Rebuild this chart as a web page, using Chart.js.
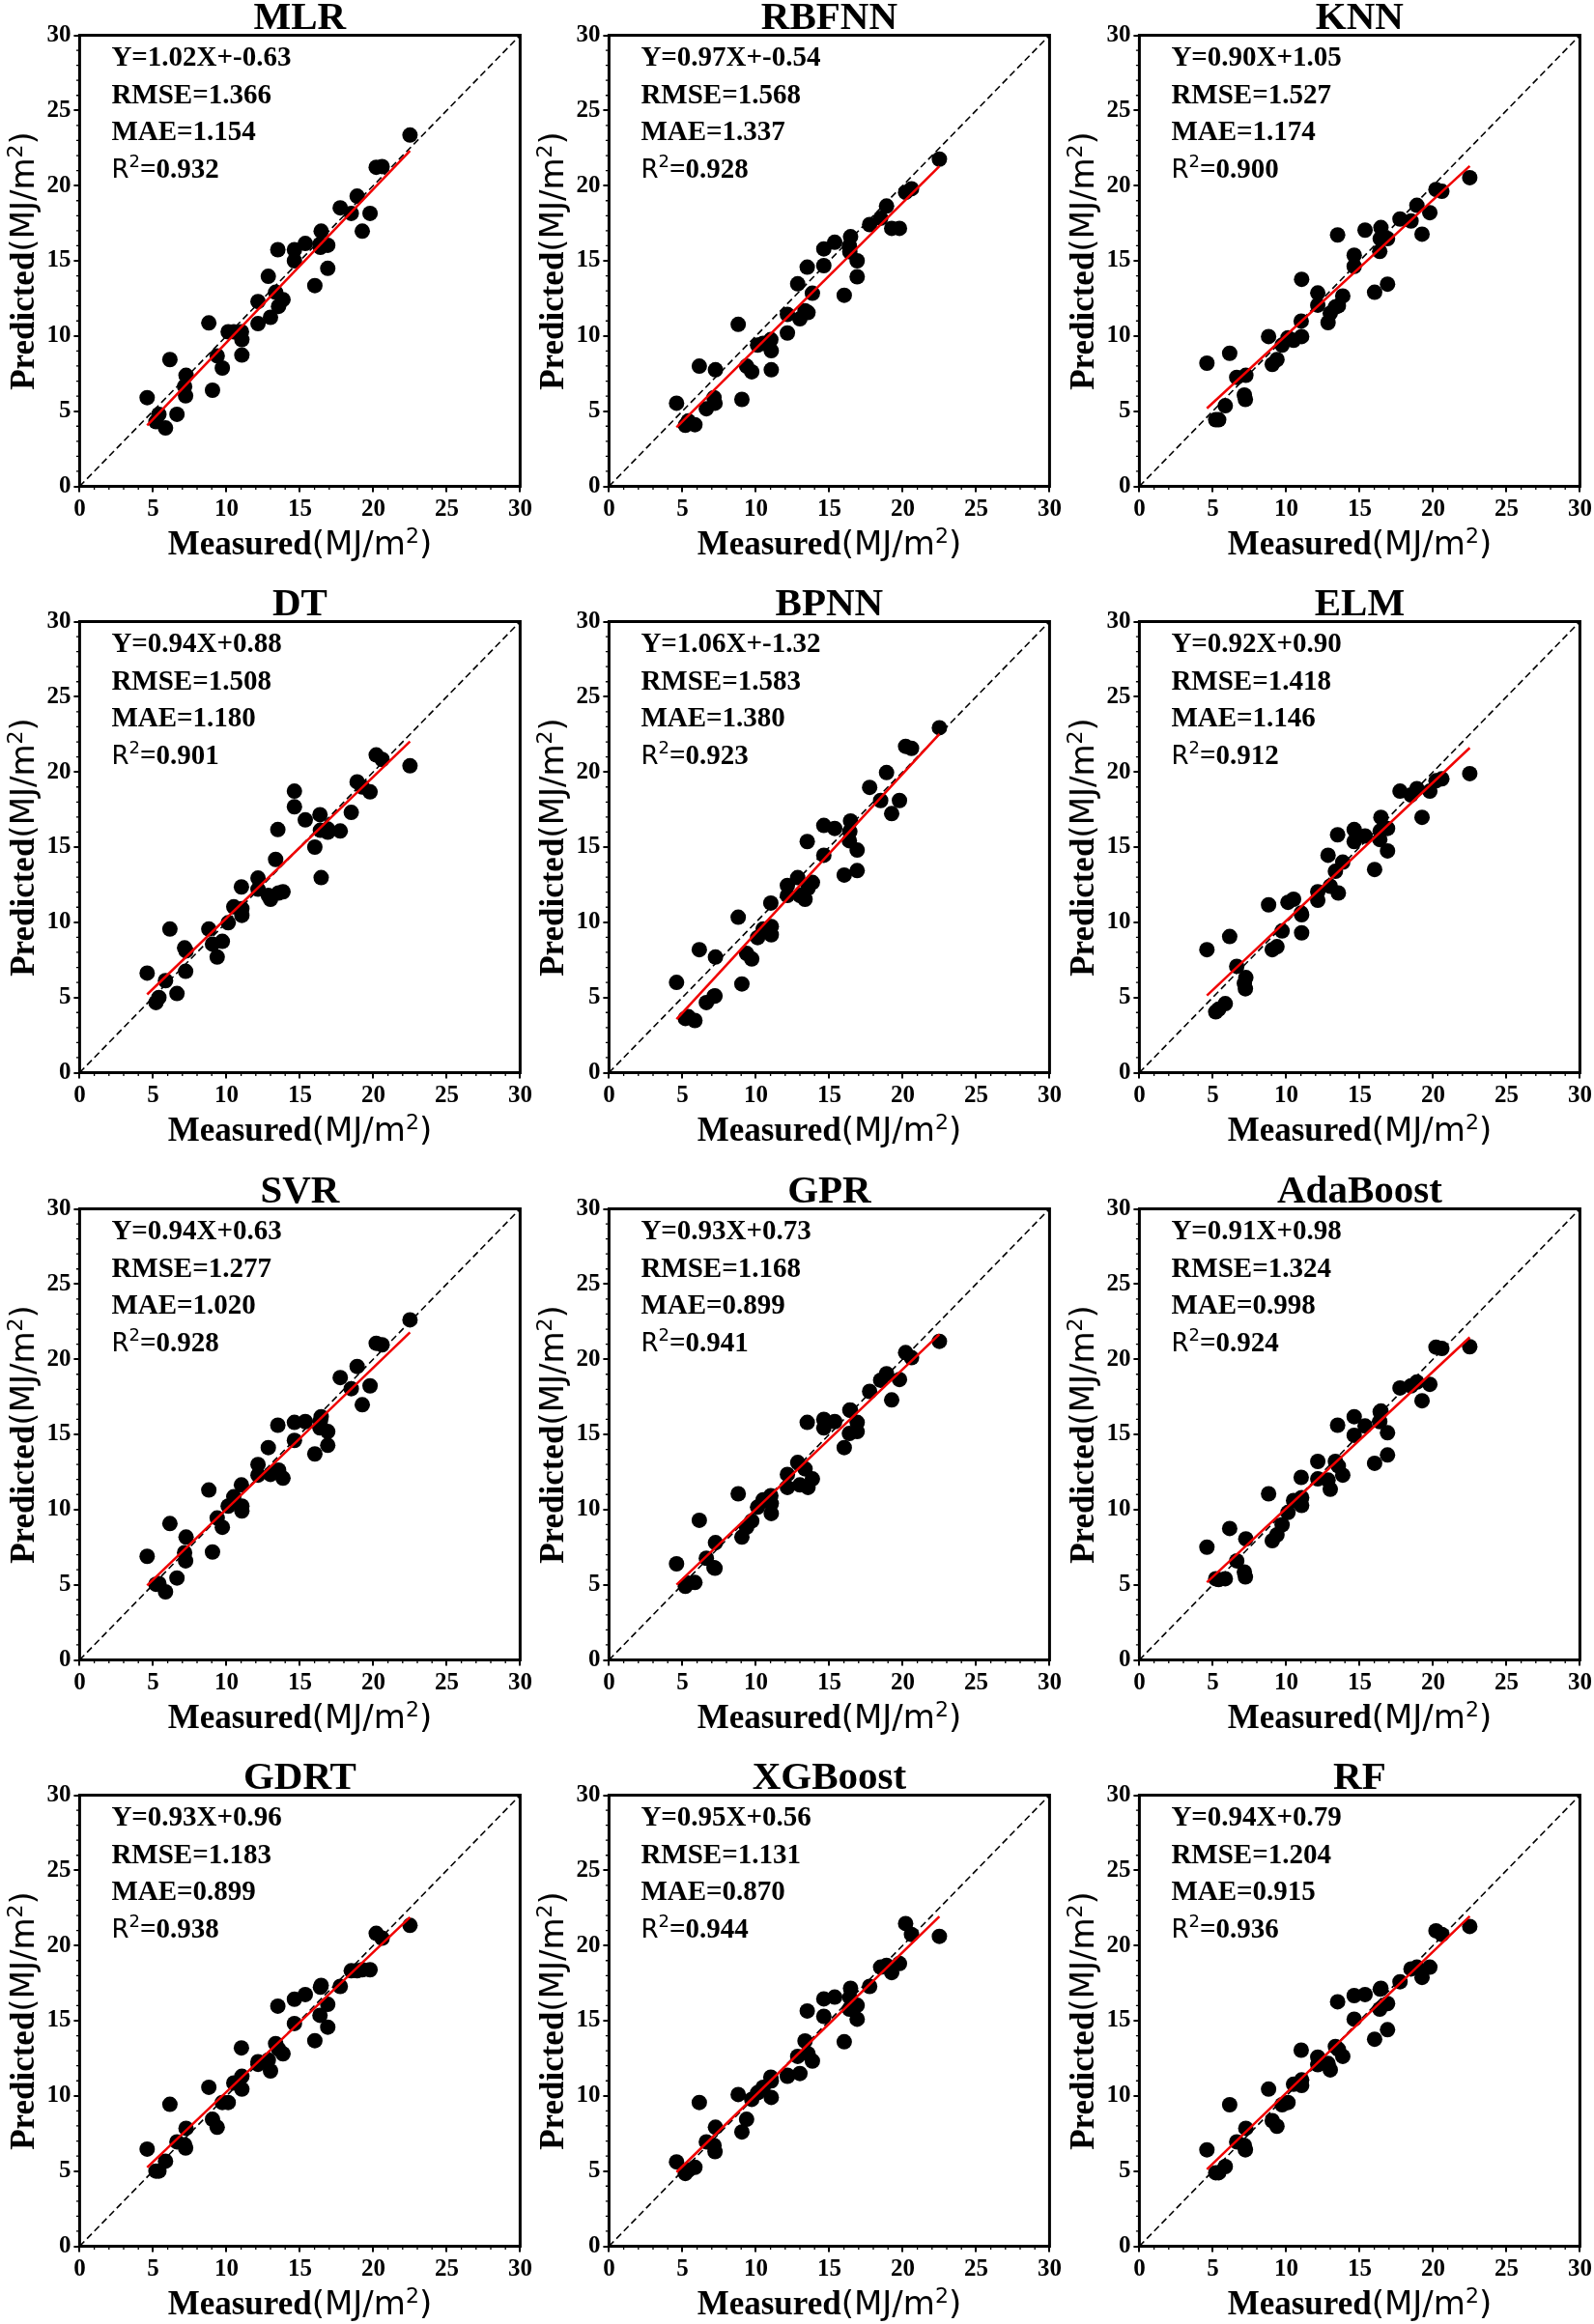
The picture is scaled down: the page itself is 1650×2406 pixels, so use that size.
<!DOCTYPE html>
<html>
<head>
<meta charset="utf-8">
<script src="https://cdn.jsdelivr.net/npm/chart.js@4.4.1/dist/chart.umd.min.js"></script>
<style>
  html, body { margin: 0; padding: 0; background: #fff; overflow: hidden; }
  #wrap { position: relative; width: 1650px; height: 2406px; background: #fff; }
  canvas { position: absolute; }
</style>
</head>
<body>
<div id="wrap"></div>
<script>
// ---------------- DATA ----------------
const models = ["MLR", "RBFNN", "KNN", "DT", "BPNN", "ELM", "SVR", "GPR", "AdaBoost", "GDRT", "XGBoost", "RF"];
const tickValues = [0, 5, 10, 15, 20, 25, 30];

const measured = [4.6, 5.2, 5.4, 5.85, 6.15, 6.63, 7.15, 7.25, 7.22, 8.8, 9.05, 9.37, 9.72, 10.12, 10.5, 11.02, 11.05, 11.05,
  12.15, 12.15, 12.85, 13.0, 13.35, 13.5, 13.55, 13.85, 14.63, 14.63, 15.37, 16.02, 16.37, 16.45, 16.4, 16.9, 16.9,
  17.75, 18.5, 18.9, 19.25, 19.78, 20.2, 20.6, 22.5];

const predMLR = [5.9, 4.3, 4.79, 3.88, 8.43, 4.79, 6.64, 7.38, 6.02, 10.87, 6.39, 8.68, 7.87, 10.28, 10.28, 10.28, 9.76, 8.73,
  12.29, 10.82, 13.97, 11.24, 12.91, 15.74, 11.97, 12.42, 15.74, 15.0, 16.15, 13.35, 16.1, 16.97, 15.9, 16.03, 14.5,
  18.52, 18.15, 19.3, 16.97, 18.15, 21.22, 21.27, 23.36];
const predRBFNN = [5.53, 4.06, 4.35, 4.1, 7.99, 5.16, 5.9, 7.75, 5.53, 10.77, 5.78, 7.99, 7.62, 9.39, 9.51, 9.76, 9.02, 7.75,
  11.43, 10.2, 13.47, 11.14, 11.68, 14.58, 11.56, 12.84, 15.79, 14.68, 16.23, 12.71, 15.98, 16.6, 15.6, 15.0, 13.94,
  17.41, 17.83, 18.64, 17.16, 17.16, 19.55, 19.79, 21.76];
const predKNN = [8.19, 4.43, 4.43, 5.36, 8.85, 7.25, 6.07, 7.38, 5.78, 9.96, 8.11, 8.43, 9.39, 9.88, 9.71, 10.99, 13.77, 9.96,
  12.86, 12.05, 10.89, 11.51, 11.93, 16.72, 12.0, 12.66, 15.37, 14.63, 17.04, 12.91, 15.62, 17.21, 16.47, 16.47, 13.45,
  17.78, 17.65, 18.69, 16.77, 18.2, 19.74, 19.62, 20.53];
const predDT = [6.62, 4.66, 5.0, 6.12, 9.55, 5.26, 8.3, 8.1, 6.74, 9.55, 8.55, 7.69, 8.73, 9.97, 11.03, 12.35, 10.91, 10.46,
  12.94, 12.2, 11.78, 11.53, 14.18, 16.17, 11.95, 12.03, 18.72, 17.68, 16.81, 15.0, 17.16, 12.97, 16.12, 15.99, 16.2,
  16.07, 17.31, 19.34, 19.0, 18.67, 21.13, 20.83, 20.41];
const predBPNN = [6.0, 3.6, 3.72, 3.47, 8.18, 4.66, 5.08, 7.69, 5.1, 10.34, 5.9, 7.93, 7.56, 8.98, 9.55, 11.28, 9.72, 9.17,
  12.45, 11.78, 12.97, 11.78, 11.53, 15.37, 12.27, 12.65, 16.44, 14.46, 16.24, 13.14, 15.42, 16.74, 16.04, 14.8, 13.44,
  18.97, 18.1, 19.96, 17.23, 18.1, 21.7, 21.57, 22.94];
const predELM = [8.18, 4.04, 4.22, 4.59, 9.05, 7.07, 5.95, 6.32, 5.58, 11.16, 8.18, 8.38, 9.42, 11.33, 11.53, 10.61, 9.3, 10.5,
  12.03, 11.46, 14.46, 12.4, 13.39, 15.82, 11.95, 14.0, 16.17, 15.37, 15.74, 13.51, 15.5, 16.98, 16.07, 16.24, 14.75,
  18.72, 18.47, 18.89, 16.98, 18.72, 19.41, 19.54, 19.89];
const predSVR = [6.89, 5.03, 5.08, 4.53, 9.07, 5.45, 7.13, 8.17, 6.59, 11.3, 7.18, 9.44, 8.82, 10.23, 10.85, 11.64, 10.23, 9.91,
  13.0, 12.29, 14.12, 12.34, 12.5, 15.61, 12.63, 12.09, 15.8, 14.6, 15.85, 13.7, 15.43, 16.18, 15.9, 15.19, 14.27,
  18.78, 18.04, 19.52, 16.97, 18.23, 21.06, 20.96, 22.62];
const predGPR = [6.39, 4.9, 5.1, 5.15, 9.29, 6.76, 6.14, 7.8, 6.1, 11.05, 8.17, 8.82, 9.24, 10.16, 10.65, 10.92, 10.4, 9.74,
  12.34, 11.47, 13.13, 11.64, 12.71, 15.8, 11.47, 12.04, 16.0, 15.43, 15.85, 14.12, 15.06, 16.6, 16.62, 15.8, 15.19,
  17.86, 18.6, 19.03, 17.29, 18.65, 20.44, 20.1, 21.19];
const predAdaBoost = [7.5, 5.4, 5.35, 5.4, 8.74, 6.59, 5.85, 8.05, 5.52, 11.05, 7.93, 8.32, 8.99, 9.81, 10.6, 12.14, 10.28, 10.8,
  13.2, 12.04, 11.96, 11.35, 13.2, 15.61, 12.9, 12.29, 16.18, 14.94, 15.56, 13.08, 15.85, 16.55, 16.5, 15.11, 13.63,
  18.09, 18.23, 18.48, 17.24, 18.33, 20.8, 20.71, 20.83];
const predGDRT = [6.46, 5.0, 5.0, 5.66, 9.44, 6.94, 6.75, 7.84, 6.53, 10.57, 8.44, 7.91, 9.56, 9.56, 10.86, 13.19, 11.3, 10.45,
  12.27, 12.1, 12.39, 11.66, 13.48, 15.97, 13.11, 12.8, 16.43, 14.81, 16.74, 13.67, 15.36, 17.35, 17.23, 16.09, 14.57,
  17.28, 18.32, 18.32, 18.39, 18.39, 20.81, 20.49, 21.34];
const predXGBoost = [5.61, 4.84, 5.06, 5.25, 9.56, 6.94, 6.7, 7.91, 6.29, 10.09, 7.6, 8.44, 9.77, 10.21, 10.57, 11.25, 9.9, 11.0,
  11.37, 11.3, 12.63, 11.49, 13.65, 15.65, 12.8, 12.32, 16.45, 15.29, 16.57, 13.6, 15.77, 17.15, 16.55, 16.02, 15.1,
  17.28, 18.56, 18.68, 18.2, 18.8, 21.46, 20.74, 20.61];
const predRF = [6.41, 4.89, 4.89, 5.3, 9.41, 6.94, 6.7, 7.84, 6.41, 10.45, 8.35, 7.98, 9.41, 9.56, 10.77, 13.04, 10.69, 11.06,
  12.58, 12.07, 12.15, 11.73, 13.28, 16.26, 13.1, 12.63, 16.67, 15.1, 16.74, 13.77, 15.77, 17.15, 17.1, 16.14, 14.4,
  17.59, 18.44, 18.56, 17.88, 18.56, 20.98, 20.74, 21.27];

const slopes     = [1.02, 0.97, 0.90, 0.94, 1.06, 0.92, 0.94, 0.93, 0.91, 0.93, 0.95, 0.94];
const intercepts = [-0.63, -0.54, 1.05, 0.88, -1.32, 0.90, 0.63, 0.73, 0.98, 0.96, 0.56, 0.79];
const rmseText = ["1.366", "1.568", "1.527", "1.508", "1.583", "1.418", "1.277", "1.168", "1.324", "1.183", "1.131", "1.204"];
const maeText  = ["1.154", "1.337", "1.174", "1.180", "1.380", "1.146", "1.020", "0.899", "0.998", "0.899", "0.870", "0.915"];
const r2Text   = ["0.932", "0.928", "0.900", "0.901", "0.923", "0.912", "0.928", "0.941", "0.924", "0.938", "0.944", "0.936"];

const predictions = [predMLR, predRBFNN, predKNN, predDT, predBPNN, predELM, predSVR, predGPR, predAdaBoost, predGDRT, predXGBoost, predRF];

// ---------------- LAYOUT ----------------
const SERIF = '"Liberation Serif", "Times New Roman", serif';
const SANS = '"DejaVu Sans", sans-serif';
const colX = [0, 548, 1097];
const rowY = [0, 607, 1215, 1822];
const CW = 556, CH = 607;
const AREA_L = 82.4, AREA_T = 36.5, AREA_W = 456, AREA_H = 467;

function drawParts(ctx, parts, x, y, align) {
  let total = 0;
  parts.forEach(p => { ctx.font = p.f; p.w = ctx.measureText(p.t).width; total += p.w; });
  let cx = align === 'center' ? x - total / 2 : x;
  ctx.textAlign = 'left';
  ctx.textBaseline = 'alphabetic';
  parts.forEach(p => { ctx.font = p.f; ctx.fillText(p.t, cx, y + (p.dy || 0)); cx += p.w; });
}

const unitParts = (lead) => [
  { t: lead, f: 'bold 35px ' + SERIF },
  { t: '(MJ/m', f: '34px ' + SANS },
  { t: '2', f: '22px ' + SANS, dy: -12 },
  { t: ')', f: '34px ' + SANS }
];

const panelDecor = {
  id: 'panelDecor',
  afterDraw(chart, args, opts) {
    const i = opts.idx;
    const { ctx, chartArea: a } = chart;
    const xs = chart.scales.x, ys = chart.scales.y;
    ctx.save();
    // frame
    ctx.strokeStyle = '#000';
    ctx.lineWidth = 3;
    ctx.strokeRect(a.left, a.top, a.right - a.left, a.bottom - a.top);
    // minor ticks
    ctx.lineWidth = 1.3;
    ctx.beginPath();
    for (let v = 1; v < 30; v++) {
      if (v % 5 === 0) continue;
      const px = xs.getPixelForValue(v);
      ctx.moveTo(px, a.bottom); ctx.lineTo(px, a.bottom + 3.5);
      const py = ys.getPixelForValue(v);
      ctx.moveTo(a.left, py); ctx.lineTo(a.left - 3.5, py);
    }
    ctx.stroke();
    ctx.fillStyle = '#000';
    // title
    ctx.font = 'bold 41px ' + SERIF;
    ctx.textAlign = 'center';
    ctx.textBaseline = 'alphabetic';
    ctx.fillText(models[i], (a.left + a.right) / 2, a.top - 6.5);
    // stats
    const tx = a.left + 33, ty = a.top + 31.5, lh = 38.5;
    const eq = 'Y=' + slopes[i].toFixed(2) + 'X+' + intercepts[i].toFixed(2);
    drawParts(ctx, [{ t: eq, f: 'bold 29px ' + SERIF }], tx, ty, 'left');
    drawParts(ctx, [{ t: 'RMSE=' + rmseText[i], f: 'bold 29px ' + SERIF }], tx, ty + lh, 'left');
    drawParts(ctx, [{ t: 'MAE=' + maeText[i], f: 'bold 29px ' + SERIF }], tx, ty + 2 * lh, 'left');
    drawParts(ctx, [
      { t: 'R', f: '26px ' + SANS },
      { t: '2', f: '18px ' + SANS, dy: -11 },
      { t: '=' + r2Text[i], f: 'bold 29px ' + SERIF }
    ], tx, ty + 3 * lh, 'left');
    // x title
    drawParts(ctx, unitParts('Measured'), (a.left + a.right) / 2, a.bottom + 70, 'center');
    // y title
    ctx.save();
    ctx.translate(a.left - 47.5, (a.top + a.bottom) / 2);
    ctx.rotate(-Math.PI / 2);
    drawParts(ctx, unitParts('Predicted'), 0, 0, 'center');
    ctx.restore();
    ctx.restore();
  }
};

const wrap = document.getElementById('wrap');
const xMin = Math.min(...measured), xMax = Math.max(...measured);

models.forEach((name, i) => {
  const col = i % 3, row = Math.floor(i / 3);
  const cv = document.createElement('canvas');
  cv.width = CW; cv.height = CH;
  cv.style.left = colX[col] + 'px';
  cv.style.top = rowY[row] + 'px';
  cv.style.width = CW + 'px';
  cv.style.height = CH + 'px';
  wrap.appendChild(cv);

  const pts = measured.map((m, k) => ({ x: m, y: predictions[i][k] }));
  const fit = [
    { x: xMin, y: slopes[i] * xMin + intercepts[i] },
    { x: xMax, y: slopes[i] * xMax + intercepts[i] }
  ];
  const diag = [{ x: tickValues[0], y: tickValues[0] }, { x: tickValues[tickValues.length - 1], y: tickValues[tickValues.length - 1] }];

  const axisCommon = {
    type: 'linear',
    min: 0, max: 30,
    afterBuildTicks: s => { s.ticks = tickValues.map(v => ({ value: v })); },
    grid: { display: true, drawOnChartArea: false, drawTicks: true, tickLength: 6, color: '#000', lineWidth: 2 },
    border: { display: false },
    ticks: { color: '#000', font: { family: SERIF, size: 25, weight: 'bold' }, maxRotation: 0, autoSkip: false }
  };

  new Chart(cv, {
    type: 'scatter',
    data: {
      datasets: [
        { data: fit, showLine: true, borderColor: '#f00000', borderWidth: 2.5, pointRadius: 0, order: 0 },
        { data: diag, showLine: true, borderColor: '#000', borderWidth: 1.6, borderDash: [7, 4], pointRadius: 0, order: 1 },
        { data: pts, backgroundColor: '#000', borderWidth: 0, pointRadius: 8, order: 2 }
      ]
    },
    options: {
      responsive: false,
      animation: false,
      devicePixelRatio: 1,
      layout: { padding: { left: 0, top: AREA_T, right: CW - AREA_L - AREA_W, bottom: 0 } },
      plugins: { legend: { display: false }, tooltip: { enabled: false }, panelDecor: { idx: i } },
      scales: {
        x: Object.assign({}, axisCommon, {
          position: 'bottom',
          ticks: Object.assign({}, axisCommon.ticks, { padding: 3 }),
          afterFit: s => { s.height = CH - AREA_T - AREA_H; }
        }),
        y: Object.assign({}, axisCommon, {
          position: 'left',
          ticks: Object.assign({}, axisCommon.ticks, { padding: 3 }),
          afterFit: s => { s.width = AREA_L; }
        })
      }
    },
    plugins: [panelDecor]
  });
});
</script>
</body>
</html>
